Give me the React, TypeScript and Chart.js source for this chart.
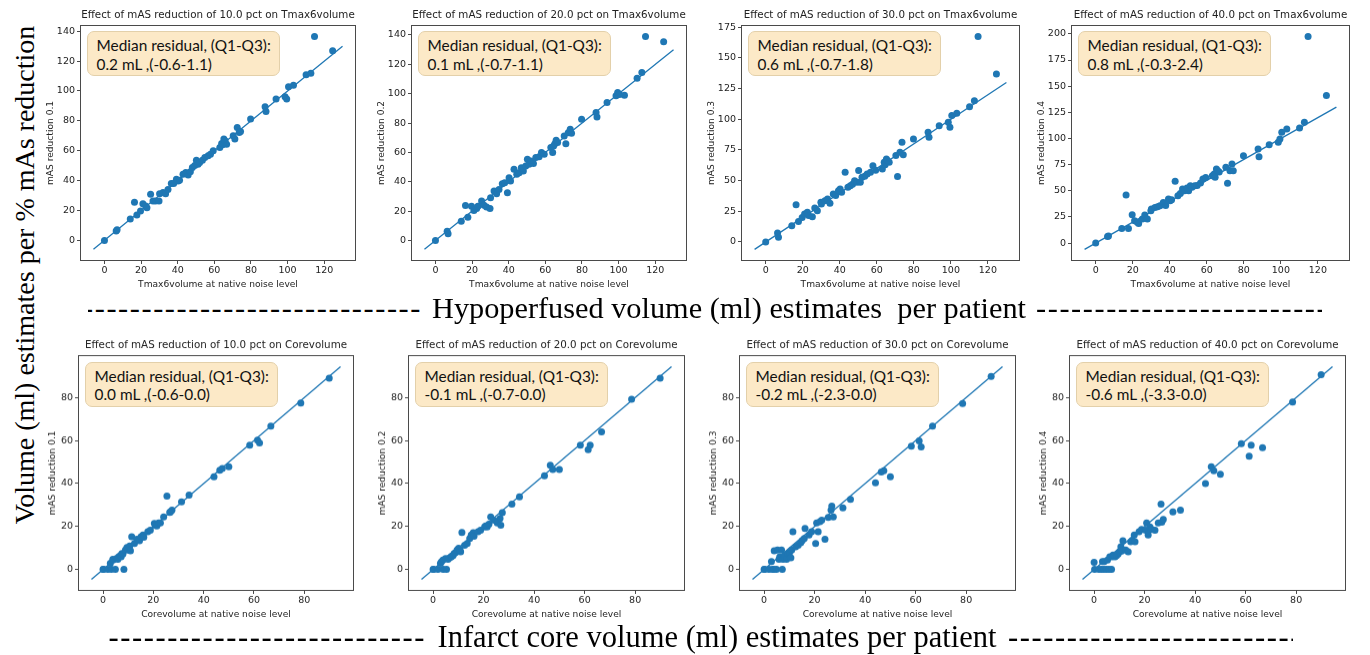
import React, { useEffect, useRef } from "react";
import { Chart, registerables } from "chart.js";

Chart.register(...registerables);

// ---------------- DATA ----------------
const REDUCTIONS = [10, 20, 30, 40];

// Hypoperfused (Tmax6) volume at native noise level, per patient
const TMAX_NATIVE = [0, 6.4, 6.9, 14.1, 16.4, 17.7, 19.7, 21, 22.5, 23.2, 25.2, 26.5, 27.9, 29.8, 30.1, 32, 33.4, 34.7, 36.5, 37.8, 39.3, 40.2, 41, 42.9, 44.4, 45.7, 46.9, 48, 49.3, 50.2, 51.1, 52, 53.5, 54.8, 56.6, 57.9, 59.4, 63, 64, 64.5, 65.2, 65.9, 66.7, 70.3, 71.2, 72.5, 73.6, 74.3, 79.8, 87.7, 88.2, 93.7, 98.6, 99.5, 100.5, 103.2, 110.1, 112.7, 114.7, 124.6];
const TMAX_RED10 = [0, 6.3, 7.2, 14.3, 25.5, 17, 19.7, 24.6, 23, 21.9, 30.9, 26.4, 26.4, 26.4, 31.3, 32, 31.3, 34, 38, 38, 41, 39.8, 40.3, 44.3, 45.4, 43.8, 46, 48.8, 50.1, 53.7, 51, 52.1, 53.7, 55.5, 56.6, 57.7, 60, 62.2, 64.9, 64, 67.8, 66.7, 64.4, 70, 67.8, 75.6, 72.2, 72.9, 81.2, 89.5, 86.3, 94.6, 96.2, 94.6, 102.9, 103.8, 110.9, 111.8, 136.4, 127];
const TMAX_RED20 = [0, 6.4, 4.6, 13.2, 23.9, 15.9, 23.4, 20.5, 21.9, 23.4, 26.9, 24, 22.8, 21.9, 29.1, 33.7, 31.9, 34.8, 38.7, 39.4, 32.6, 42.8, 40.5, 48.5, 45.1, 46.2, 49.6, 47.3, 50.8, 55.3, 51.9, 54.2, 52.5, 56.5, 57, 59.9, 58.7, 63.3, 59.9, 64.4, 66, 68.3, 66.7, 71.2, 66, 73.5, 75.8, 73, 82.6, 87.2, 84.2, 94, 98.6, 100.8, 99.5, 99, 110.6, 114.5, 138.9, 135.4];
const TMAX_RED30 = [0, 7.3, 3.8, 13.3, 30.4, 16.8, 20, 22.8, 24.2, 21.5, 20.6, 27.7, 25.5, 32.3, 31, 33.7, 35, 31.5, 39.1, 37.8, 41.8, 43.2, 40.5, 56.8, 44.6, 45.9, 47, 50, 48.6, 58.2, 48.6, 52.7, 53.5, 55.4, 56.8, 62.2, 58.5, 59.5, 64.9, 63, 67.7, 66.3, 65, 70.4, 53.3, 73.1, 81.3, 71.2, 84, 89.4, 85.3, 94.8, 97.6, 93.5, 103, 104.9, 110.3, 115.2, 167.4, 137];
const TMAX_RED40 = [0, 6.4, 6.8, 14, 45.9, 14, 27.1, 21.4, 19.8, 18.8, 23, 26.8, 23, 31, 32.5, 34.1, 34.8, 35.7, 38.9, 36, 42.1, 40.5, 41.5, 59, 45.3, 47.5, 51.7, 50.1, 52.6, 50.1, 54.9, 53.3, 54.9, 55, 57.5, 61.2, 62.8, 64.4, 66, 63, 70.8, 69.2, 68, 72.4, 57.1, 69.2, 75.6, 69.2, 83.6, 90, 82.6, 94.1, 96.3, 99.5, 105.9, 109.1, 110, 115.5, 197.4, 141];

// Infarct core volume at native noise level, per patient
const CORE_NATIVE = [0, 0.2, 1.9, 2.9, 3.3, 3.9, 4.0, 4.9, 5.3, 5.9, 6.2, 6.9, 7.2, 7.5, 7.9, 8.3, 8.9, 9.5, 10.1, 10.6, 10.9, 11.4, 12.5, 13.5, 14.5, 15.1, 15.9, 16.2, 17.8, 18.8, 20.4, 20.8, 21.4, 22.1, 22.8, 24.1, 25.4, 26.5, 26.8, 27.4, 31.2, 34.2, 44.1, 46.4, 47.4, 50, 58.3, 61.4, 62.2, 66.7, 78.6, 89.9];
const CORE_RED10 = [0, 0, 0, 2.8, 0, 4.7, 4.3, 0, 5.1, 4.7, 5.9, 6.5, 5.9, 7.4, 7.2, 0, 9, 10.2, 9, 10.9, 8.7, 15.2, 12.1, 14, 13.3, 15.2, 16, 15, 17.5, 18.3, 21.4, 20.5, 20.2, 21.7, 21.7, 24.5, 34.1, 26.5, 26.8, 27.6, 31.5, 34.6, 43.1, 46.2, 47, 47.8, 57.8, 60.2, 58.9, 66.7, 77.5, 89.1];
const CORE_RED20 = [0, 0, 0, 2.8, 3.5, 4.3, 0, 5.1, 0, 4.7, 5.2, 5.6, 6.0, 6.2, 6.5, 7.4, 7.8, 9, 9.8, 9.2, 8.2, 17.2, 11.3, 12.1, 14.4, 16, 17.1, 15.5, 17.5, 18.3, 19.8, 20.2, 19.8, 21, 24.5, 22.9, 21.7, 23.7, 20.6, 26.4, 30.4, 33.8, 43.6, 48.5, 46.5, 46.5, 57.8, 55.8, 57.8, 64, 79.2, 89.1];
const CORE_RED30 = [0, 0, 0, 3.6, 0, 0, 8.7, 0, 9, 4.7, 5.9, 9, 0, 4.7, 5.9, 6.5, 4.7, 7.4, 8, 5.4, 9, 17.5, 10.5, 11.3, 12.4, 13.5, 14.4, 19.1, 16, 17.5, 12.1, 21.7, 17.5, 22.2, 22.9, 14, 24.2, 27.6, 29.5, 24.5, 28.7, 32.6, 40.3, 45.4, 45.9, 43.1, 57.4, 59.8, 57, 66.7, 77.2, 89.9];
const CORE_RED40 = [3.3, 0, 0, 0, 3.6, 0, 3.6, 0, 4.3, 0, 5.9, 0, 5.9, 6.7, 6.2, 5.9, 6.5, 7.1, 8.2, 10.5, 8.5, 13.3, 9, 8.2, 12.9, 13.6, 16, 12.9, 17.5, 18.6, 18.3, 21.7, 16, 19.8, 18.6, 18.3, 21.7, 30.4, 22, 23.3, 26.8, 27.6, 40, 47.8, 45.9, 44.3, 58.6, 52.7, 57.8, 56.7, 78, 90.7];

// identity reference line end points
const TMAX_FIT = [-6, 130];
const CORE_FIT = [-4.6, 94.4];

const TMAX_XTICKS = [0, 20, 40, 60, 80, 100, 120];
const TMAX_YTICKS_20 = [0, 20, 40, 60, 80, 100, 120, 140];
const TMAX_YTICKS_30 = [0, 25, 50, 75, 100, 125, 150, 175];
const TMAX_YTICKS_40 = [0, 25, 50, 75, 100, 125, 150, 175, 200];
const CORE_TICKS = [0, 20, 40, 60, 80];

const TMAX_RESIDUALS = ["0.2 mL ,(-0.6-1.1)", "0.1 mL ,(-0.7-1.1)", "0.6 mL ,(-0.7-1.8)", "0.8 mL ,(-0.3-2.4)"];
const CORE_RESIDUALS = ["0.0 mL ,(-0.6-0.0)", "-0.1 mL ,(-0.7-0.0)", "-0.2 mL ,(-2.3-0.0)", "-0.6 mL ,(-3.3-0.0)"];

// ---------------- STYLE / LAYOUT ----------------
const BLUE = "#1f77b4";
const FRAME = "#4a4a4a";
const TEXT = "#222222";
const SANS = "'DejaVu Sans', sans-serif";
const SERIF = "'Liberation Serif', 'Times New Roman', serif";

const TOP_AREAS = [
  { l: 81, t: 25.5, w: 274, h: 234 },
  { l: 412, t: 25.5, w: 274, h: 234 },
  { l: 742, t: 25.5, w: 277, h: 234 },
  { l: 1072, t: 25.5, w: 277, h: 234 },
];
const BOTTOM_AREAS = [
  { l: 79, t: 356, w: 274, h: 233.5 },
  { l: 409, t: 356, w: 275, h: 233.5 },
  { l: 740, t: 356, w: 275, h: 233.5 },
  { l: 1070, t: 356, w: 275, h: 233.5 },
];

const TH = 25;
const XH = 30;
const RP = 6;
const BP = 2;

const framePlugin = {
  id: "frame",
  afterDraw(chart: any) {
    const { ctx, chartArea: a } = chart;
    ctx.save();
    ctx.strokeStyle = FRAME;
    ctx.lineWidth = 1;
    const l = Math.round(a.left) - 0.5;
    const t = Math.round(a.top) - 0.5;
    const r = Math.round(a.right) + 0.5;
    const b = Math.round(a.bottom) + 0.5;
    ctx.strokeRect(l, t, r - l, b - t);
    ctx.restore();
  },
};

function limits(arr: number[]) {
  const lo = Math.min(...arr);
  const hi = Math.max(...arr);
  const m = (hi - lo) * 0.05;
  return [lo - m, hi + m];
}

type PanelProps = {
  area: { l: number; t: number; w: number; h: number };
  xs: number[];
  ys: number[];
  fit: number[];
  xTicks: number[];
  yTicks: number[];
  title: string;
  xLabel: string;
  yLabel: string;
  note: string;
  yw: number;
};

function Panel(p: PanelProps) {
  const ref = useRef<HTMLCanvasElement>(null);
  const cw = p.yw + p.area.w + RP;
  const ch = TH + p.area.h + XH + BP;

  useEffect(() => {
    if (!ref.current) return;
    const pts = p.xs.map((x, i) => ({ x, y: p.ys[i] }));
    const [xmin, xmax] = limits([...p.xs, ...p.fit]);
    const [ymin, ymax] = limits([...p.ys, ...p.fit]);
    const tickFont = { family: SANS, size: 9.5 };
    const chart = new Chart(ref.current, {
      type: "scatter",
      data: {
        datasets: [
          {
            type: "scatter",
            data: pts,
            pointRadius: 3.5,
            pointBackgroundColor: BLUE,
            pointBorderWidth: 0,
            order: 2,
          } as any,
          {
            type: "line",
            data: [
              { x: p.fit[0], y: p.fit[0] },
              { x: p.fit[1], y: p.fit[1] },
            ],
            borderColor: BLUE,
            borderWidth: 1.3,
            pointRadius: 0,
            fill: false,
            order: 1,
          } as any,
        ],
      },
      options: {
        animation: false,
        responsive: false,
        events: [],
        layout: { padding: { left: 0, right: RP, top: 0, bottom: BP } },
        plugins: {
          legend: { display: false },
          tooltip: { enabled: false },
          title: {
            display: true,
            text: p.title,
            fullSize: false,
            color: TEXT,
            font: { family: SANS, size: 10.3, weight: "normal" as any, lineHeight: 1.2 },
            padding: { top: 8.5, bottom: 4.1 },
          },
        },
        scales: {
          x: {
            type: "linear",
            min: xmin,
            max: xmax,
            afterFit: (s: any) => {
              s.height = XH;
            },
            afterBuildTicks: (s: any) => {
              s.ticks = p.xTicks.map((v) => ({ value: v }));
            },
            grid: { drawOnChartArea: false, drawTicks: true, tickLength: 4, color: FRAME },
            border: { display: false },
            ticks: { font: tickFont, color: TEXT, padding: 1, maxRotation: 0, autoSkip: false },
            title: {
              display: true,
              text: p.xLabel,
              color: TEXT,
              font: { family: SANS, size: 9.1, lineHeight: 1.2 },
              padding: { top: 0, bottom: 0 },
            },
          },
          y: {
            type: "linear",
            min: ymin,
            max: ymax,
            afterFit: (s: any) => {
              s.width = p.yw;
            },
            afterBuildTicks: (s: any) => {
              s.ticks = p.yTicks.map((v) => ({ value: v }));
            },
            grid: { drawOnChartArea: false, drawTicks: true, tickLength: 4, color: FRAME },
            border: { display: false },
            ticks: { font: tickFont, color: TEXT, padding: 2, autoSkip: false },
            title: {
              display: true,
              text: p.yLabel,
              color: TEXT,
              font: { family: SANS, size: 9.1, lineHeight: 1.2 },
              padding: { top: 0, bottom: 0 },
            },
          },
        },
      },
      plugins: [framePlugin],
    } as any);
    return () => chart.destroy();
  }, []);

  return (
    <>
      <canvas
        ref={ref}
        width={cw}
        height={ch}
        style={{ position: "absolute", left: p.area.l - p.yw, top: p.area.t - TH, width: cw, height: ch }}
      />
      <div
        style={{
          position: "absolute",
          left: p.area.l + 5.5,
          top: p.area.t + 5.5,
          width: 193,
          height: 45,
          boxSizing: "border-box",
          background: "#fce9c7",
          border: "1px solid #e3d0aa",
          borderRadius: 7,
          padding: "4px 0 0 9px",
          fontFamily: "Lato, 'Open Sans', sans-serif",
          fontSize: 15.4,
          lineHeight: "18.5px",
          color: "#111",
          whiteSpace: "nowrap",
        }}
      >
        Median residual, (Q1-Q3):
        <br />
        {p.note}
      </div>
    </>
  );
}

function DashLine(props: { top: number; left: number; text: string; textLeft: number; textRight: number; right: number; size: number }) {
  const dashes = "-".repeat(60);
  const GAP = 8;
  const common: React.CSSProperties = {
    position: "absolute",
    top: props.top,
    fontFamily: SERIF,
    fontSize: props.size,
    lineHeight: "1",
    color: "#000",
    whiteSpace: "pre",
    overflow: "hidden",
    transform: "translateY(-50%)",
  };
  const dashStyle: React.CSSProperties = { letterSpacing: "1.6px" };
  return (
    <>
      <div style={{ ...common, ...dashStyle, left: props.left, width: props.textLeft - GAP - props.left, textAlign: "right", direction: "rtl" }}>{dashes}</div>
      <div style={{ ...common, left: props.textLeft, width: props.textRight - props.textLeft, textAlign: "center", overflow: "visible" }}>{props.text}</div>
      <div style={{ ...common, ...dashStyle, left: props.textRight + GAP, width: props.right - props.textRight - GAP, textAlign: "left" }}>{dashes}</div>
    </>
  );
}

export default function App() {
  useEffect(() => {
    document.body.style.margin = "0";
    document.body.style.background = "#fff";
  }, []);

  const tmaxY = [TMAX_RED10, TMAX_RED20, TMAX_RED30, TMAX_RED40];
  const tmaxYT = [TMAX_YTICKS_20, TMAX_YTICKS_20, TMAX_YTICKS_30, TMAX_YTICKS_40];
  const coreY = [CORE_RED10, CORE_RED20, CORE_RED30, CORE_RED40];

  return (
    <div style={{ position: "relative", width: 1370, height: 655, background: "#fff", overflow: "hidden" }}>
      {REDUCTIONS.map((r, i) => (
        <Panel
          key={"t" + i}
          area={TOP_AREAS[i]}
          xs={TMAX_NATIVE}
          ys={tmaxY[i]}
          fit={TMAX_FIT}
          xTicks={TMAX_XTICKS}
          yTicks={tmaxYT[i]}
          title={`Effect of mAS reduction of ${r.toFixed(1)} pct on Tmax6volume`}
          xLabel="Tmax6volume at native noise level"
          yLabel={`mAS reduction ${(r / 100).toFixed(1)}`}
          note={TMAX_RESIDUALS[i]}
          yw={36}
        />
      ))}
      {REDUCTIONS.map((r, i) => (
        <Panel
          key={"b" + i}
          area={BOTTOM_AREAS[i]}
          xs={CORE_NATIVE}
          ys={coreY[i]}
          fit={CORE_FIT}
          xTicks={CORE_TICKS}
          yTicks={CORE_TICKS}
          title={`Effect of mAS reduction of ${r.toFixed(1)} pct on Corevolume`}
          xLabel="Corevolume at native noise level"
          yLabel={`mAS reduction ${(r / 100).toFixed(1)}`}
          note={CORE_RESIDUALS[i]}
          yw={32}
        />
      ))}
      <div
        style={{
          position: "absolute",
          left: 25,
          top: 275,
          transform: "translate(-50%, -50%) rotate(-90deg)",
          fontFamily: SERIF,
          fontSize: 28,
          whiteSpace: "nowrap",
          color: "#000",
          lineHeight: "1",
        }}
      >
        Volume (ml) estimates per % mAs reduction
      </div>
      <DashLine top={308} left={88} textLeft={430} textRight={1028} right={1322} size={30.3} text={"Hypoperfused volume (ml) estimates  per patient"} />
      <DashLine top={637} left={108} textLeft={434} textRight={1000} right={1293} size={30.5} text={"Infarct core volume (ml) estimates per patient"} />
    </div>
  );
}
